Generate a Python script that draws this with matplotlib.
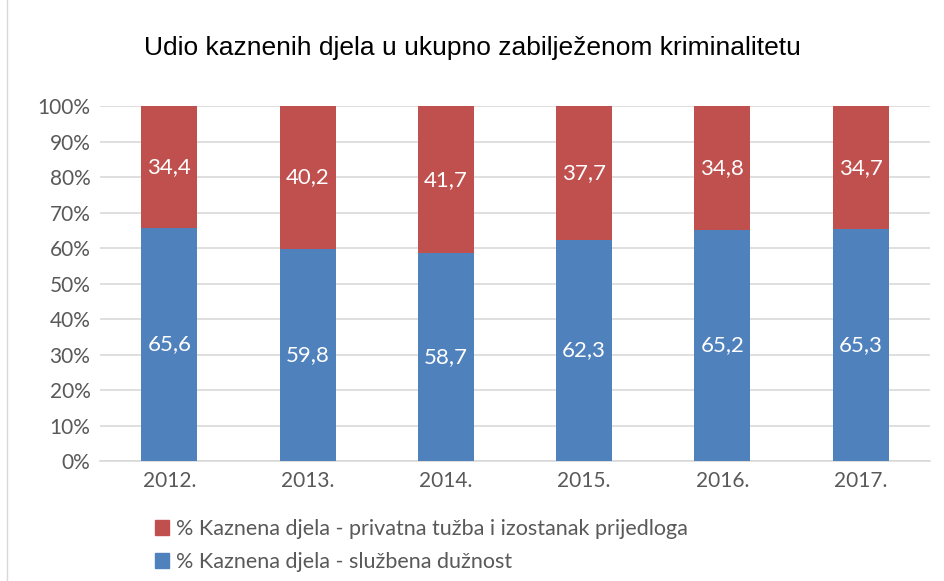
import matplotlib
matplotlib.use("Agg")
import matplotlib.pyplot as plt
from matplotlib.patches import Patch, Rectangle
import numpy as np

# ---------- data ----------
years = ["2012.", "2013.", "2014.", "2015.", "2016.", "2017."]
sluzbena = [65.6, 59.8, 58.7, 62.3, 65.2, 65.3]     # službena dužnost
privatna = [34.4, 40.2, 41.7, 37.7, 34.8, 34.7]     # privatna tužba i izostanak prijedloga

blue, red = "#4F81BD", "#C0504D"
txt = "#595959"

# 100% stacked -> normalise each year
tot = np.array(sluzbena) + np.array(privatna)
b_share = np.array(sluzbena) / tot * 100
r_share = np.array(privatna) / tot * 100

fig = plt.figure(figsize=(9.45, 5.81), dpi=100)
ax = fig.add_axes([0.106, 0.2065, 0.878, 0.611])

x = np.arange(len(years))
w = 0.405
ax.bar(x, b_share, w, color=blue, zorder=3)
ax.bar(x, r_share, w, bottom=b_share, color=red, zorder=3)

# data labels (white, centred in each segment)
for i in range(len(years)):
    ax.text(x[i], b_share[i] / 2, f"{sluzbena[i]:.1f}".replace(".", ","),
            ha="center", va="center", color="white", fontsize=16, family="Lato", zorder=4)
    ax.text(x[i], b_share[i] + r_share[i] / 2, f"{privatna[i]:.1f}".replace(".", ","),
            ha="center", va="center", color="white", fontsize=16, family="Lato", zorder=4)

ax.set_xlim(-0.5, len(years) - 0.5)
ax.set_ylim(0, 100)
ax.set_yticks(range(0, 101, 10))
ax.set_yticklabels([f"{v}%" for v in range(0, 101, 10)])
ax.set_xticks(x)
ax.set_xticklabels(years)
ax.tick_params(length=0, labelsize=15, colors=txt, pad=7)
for lab in ax.get_xticklabels() + ax.get_yticklabels():
    lab.set_family("Lato")
ax.grid(axis="y", color="#D9D9D9", lw=1.2, zorder=0)
for s in ["top", "right", "left"]:
    ax.spines[s].set_visible(False)
ax.spines["bottom"].set_color("#D9D9D9")
ax.spines["bottom"].set_linewidth(1.2)

fig.text(0.5, 0.918, "Udio kaznenih djela u ukupno zabilježenom kriminalitetu",
         ha="center", va="center", fontsize=19, family="Liberation Sans", color="black")

handles = [Patch(color=red, label="% Kaznena djela - privatna tužba i izostanak prijedloga"),
           Patch(color=blue, label="% Kaznena djela - službena dužnost")]
leg = fig.legend(handles=handles, loc="upper left", bbox_to_anchor=(0.143, 0.14),
                 frameon=False, handlelength=0.65, handleheight=0.65, handletextpad=0.35,
                 labelspacing=0.6, prop={"family": "Lato", "size": 15.5})
for t in leg.get_texts():
    t.set_color(txt)

# light chart border
fig.add_artist(Rectangle((0.007, -0.01), 1.0, 1.02, transform=fig.transFigure,
                         fill=False, edgecolor="#D9D9D9", lw=1))

fig.savefig("out.png", dpi=100)
